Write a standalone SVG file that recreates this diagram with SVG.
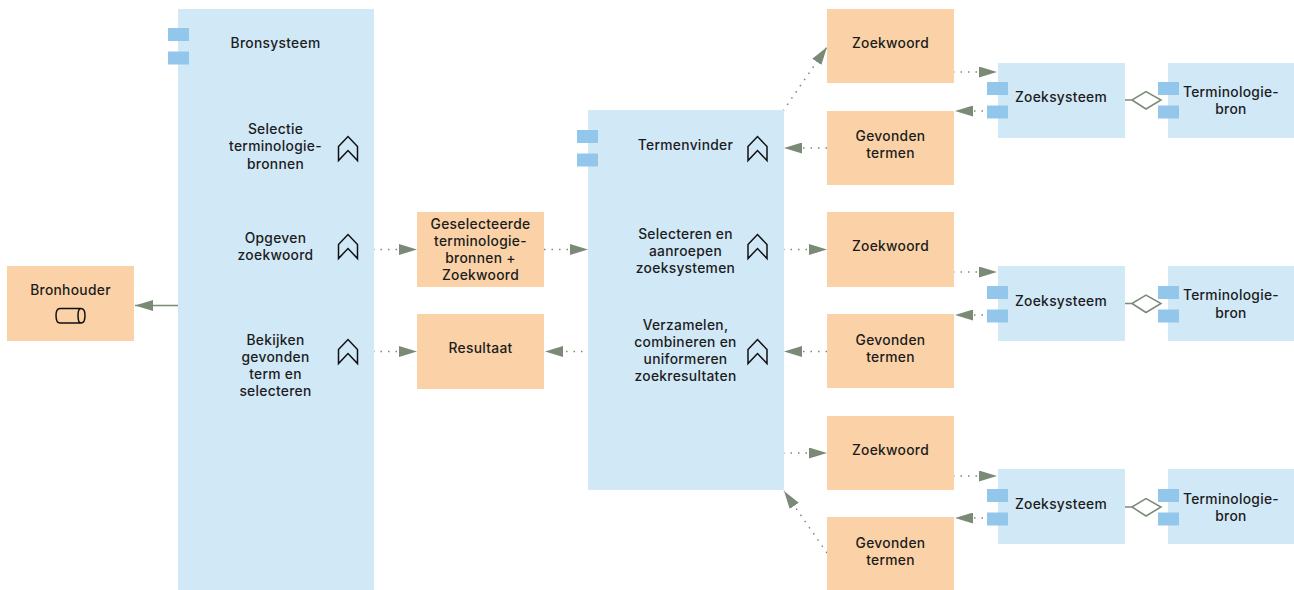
<svg xmlns="http://www.w3.org/2000/svg" width="1294" height="590" viewBox="0 0 1294 590">
<style>
.a{fill:#d1e8f7}.o{fill:#fbd2a7}.p{fill:#93c6eb}
text{font-family:Inter,"Noto Sans","Liberation Sans",sans-serif;font-size:13.8px;letter-spacing:.3px;font-weight:500;fill:#1c1c1c;text-anchor:middle}
.c{fill:none;stroke:#7b8a76;stroke-width:1.5}
.d{stroke-dasharray:1.5 6}
.i{fill:none;stroke:#111;stroke-width:1.5}
</style>
<defs>
<marker id="h" markerUnits="userSpaceOnUse" markerWidth="18" markerHeight="11" refX="18" refY="5.5" orient="auto"><path d="M0 0L18 5.500L0 11Z" fill="#7b8a76"/></marker>
<g id="chev"><path class="i" d="M0 10L9.500 0L19 10V24L9.500 14L0 24Z" transform="translate(-9.500 -12)"/></g>
<g id="ports"><rect class="p" x="0" y="0" width="21" height="13"/><rect class="p" x="0" y="23.500" width="21" height="13"/></g>
</defs>
<g id="connectors">
<path class="c" d="M178 305.500H135" marker-end="url(#h)"/>
<path class="c d" d="M373 249.500H417" marker-end="url(#h)"/>
<path class="c d" d="M544 249.500H588" marker-end="url(#h)"/>
<path class="c d" d="M373 351.500H417" marker-end="url(#h)"/>
<path class="c d" d="M590 351.500H545" marker-end="url(#h)"/>
<path class="c d" d="M783 111L827 47" marker-end="url(#h)"/>
<path class="c d" d="M827 148H784" marker-end="url(#h)"/>
<path class="c d" d="M783 249.500H827" marker-end="url(#h)"/>
<path class="c d" d="M827 351.500H784" marker-end="url(#h)"/>
<path class="c d" d="M783 453H827" marker-end="url(#h)"/>
<path class="c d" d="M827 553L784 491" marker-end="url(#h)"/>
<path class="c d" d="M953 72H997" marker-end="url(#h)"/>
<path class="c d" d="M998 111H955" marker-end="url(#h)"/>
<path class="c d" d="M953 272H997" marker-end="url(#h)"/>
<path class="c d" d="M998 315H955" marker-end="url(#h)"/>
<path class="c d" d="M953 476H997" marker-end="url(#h)"/>
<path class="c d" d="M998 518H955" marker-end="url(#h)"/>
<path class="c" d="M1125 100H1132L1146 91.500L1161 100L1146 109L1132 100"/>
<path class="c" d="M1125 303.500H1132L1146 295L1161 303.500L1146 312.500L1132 303.500"/>
<path class="c" d="M1125 507H1132L1146 498.500L1161 507L1146 516L1132 507"/>
</g>
<g id="bronsysteem"><rect class="a" x="178" y="9" width="196" height="581"/><use href="#ports" x="168" y="28"/><text x="275.500" y="48">Bronsysteem</text></g>
<g id="selectie"><text x="275.500" y="134">Selectie</text><text x="275.500" y="151">terminologie-</text><text x="275.500" y="168.500">bronnen</text><use href="#chev" x="348" y="148.500"/></g>
<g id="opgeven"><text x="275.500" y="243">Opgeven</text><text x="275.500" y="260">zoekwoord</text><use href="#chev" x="348" y="246.500"/></g>
<g id="bekijken"><text x="275.500" y="345">Bekijken</text><text x="275.500" y="362">gevonden</text><text x="275.500" y="379">term en</text><text x="275.500" y="396">selecteren</text><use href="#chev" x="348" y="351.500"/></g>
<g id="bronhouder"><rect class="o" x="7" y="266" width="127" height="75"/><text x="70.500" y="295">Bronhouder</text><path class="i" d="M81 308.500H60Q56 308.500 56 315.500Q56 323 60 323H81M81 308.500Q85 308.500 85 315.500Q85 323 81 323Q78 323 78 315.500Q78 308.500 81 308.500Z"/></g>
<g id="geselecteerde"><rect class="o" x="417" y="212" width="127" height="75"/><text x="480.500" y="229">Geselecteerde</text><text x="480.500" y="246">terminologie-</text><text x="480.500" y="263">bronnen +</text><text x="480.500" y="280">Zoekwoord</text></g>
<g id="resultaat"><rect class="o" x="417" y="314" width="127" height="75"/><text x="480.500" y="353">Resultaat</text></g>
<g id="termenvinder"><rect class="a" x="588" y="110" width="196" height="380"/><use href="#ports" x="577" y="130"/><text x="685.500" y="150">Termenvinder</text><use href="#chev" x="757.500" y="148.500"/></g>
<g id="selecteren"><text x="685.500" y="239">Selecteren en</text><text x="685.500" y="256">aanroepen</text><text x="685.500" y="273">zoeksystemen</text><use href="#chev" x="757.500" y="246.500"/></g>
<g id="verzamelen"><text x="685.500" y="330">Verzamelen,</text><text x="685.500" y="347">combineren en</text><text x="685.500" y="364">uniformeren</text><text x="685.500" y="381">zoekresultaten</text><use href="#chev" x="757.500" y="351.500"/></g>
<g id="zoekwoord1"><rect class="o" x="827" y="9" width="127" height="74"/><text x="890.500" y="48">Zoekwoord</text></g>
<g id="gevonden1"><rect class="o" x="827" y="111" width="127" height="74"/><text x="890.500" y="141">Gevonden</text><text x="890.500" y="158">termen</text></g>
<g id="zoekwoord2"><rect class="o" x="827" y="212" width="127" height="75"/><text x="890.500" y="251">Zoekwoord</text></g>
<g id="gevonden2"><rect class="o" x="827" y="314" width="127" height="74"/><text x="890.500" y="345">Gevonden</text><text x="890.500" y="362">termen</text></g>
<g id="zoekwoord3"><rect class="o" x="827" y="416" width="127" height="74"/><text x="890.500" y="455">Zoekwoord</text></g>
<g id="gevonden3"><rect class="o" x="827" y="517" width="127" height="73"/><text x="890.500" y="548">Gevonden</text><text x="890.500" y="565">termen</text></g>
<g id="zoeksysteem1"><rect class="a" x="998" y="63" width="127" height="75"/><use href="#ports" x="987" y="82"/><text x="1061" y="102">Zoeksysteem</text></g>
<g id="bron1"><rect class="a" x="1168" y="63" width="126" height="75"/><use href="#ports" x="1158" y="82"/><text x="1231" y="97">Terminologie-</text><text x="1231" y="114">bron</text></g>
<g id="zoeksysteem2"><rect class="a" x="998" y="266" width="127" height="75"/><use href="#ports" x="987" y="286"/><text x="1061" y="306">Zoeksysteem</text></g>
<g id="bron2"><rect class="a" x="1168" y="266" width="126" height="75"/><use href="#ports" x="1158" y="286"/><text x="1231" y="300">Terminologie-</text><text x="1231" y="318">bron</text></g>
<g id="zoeksysteem3"><rect class="a" x="998" y="469" width="127" height="75"/><use href="#ports" x="987" y="489"/><text x="1061" y="509">Zoeksysteem</text></g>
<g id="bron3"><rect class="a" x="1168" y="469" width="126" height="75"/><use href="#ports" x="1158" y="489"/><text x="1231" y="504">Terminologie-</text><text x="1231" y="521">bron</text></g>
</svg>
